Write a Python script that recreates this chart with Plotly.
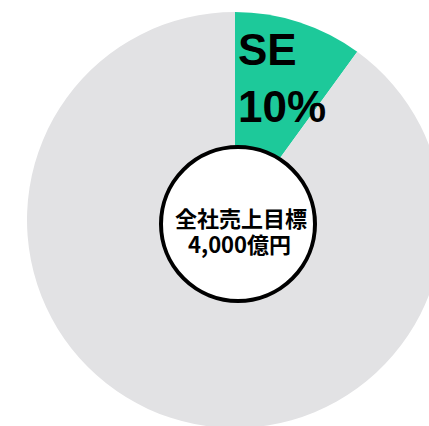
import plotly.graph_objects as go

# share of company sales target
labels = ["SE", "その他"]
values = [10, 90]
colors = ["#1DC99A", "#E2E2E4"]

center_title = "全社売上目標"
center_value = "4,000億円"

W, H = 450, 430

fig = go.Figure()
fig.add_trace(go.Pie(
    labels=labels,
    values=values,
    sort=False,
    direction="clockwise",
    rotation=0,
    marker=dict(colors=colors, line=dict(width=0)),
    textinfo="none",
    hoverinfo="label+percent",
    showlegend=False,
    domain=dict(x=[27 / W, 443 / W], y=[1 - 428 / H, 1 - 12 / H]),
))

# white circle in the middle
cx, cy, r = 238, 224, 77
fig.add_shape(
    type="circle", xref="paper", yref="paper",
    x0=(cx - r) / W, x1=(cx + r) / W,
    y0=1 - (cy + r) / H, y1=1 - (cy - r) / H,
    fillcolor="white", line=dict(color="black", width=4),
)

fig.add_annotation(
    x=236 / W, y=1 - 23 / H, xref="paper", yref="paper",
    xanchor="left", yanchor="top", align="left",
    text=f"<b>{labels[0]}<br>{values[0]}%</b>",
    showarrow=False,
    font=dict(family="Liberation Sans, Arial", size=44, color="black"),
)

fig.add_annotation(
    x=241 / W, y=1 - 217 / H, xref="paper", yref="paper",
    xanchor="center", yanchor="middle",
    text=f"<b>{center_title}</b>",
    showarrow=False,
    font=dict(family="Noto Sans CJK JP", size=22, color="black"),
)
fig.add_annotation(
    x=239 / W, y=1 - 243 / H, xref="paper", yref="paper",
    xanchor="center", yanchor="middle",
    text=f"<b>{center_value}</b>",
    showarrow=False,
    font=dict(family="Noto Sans CJK JP", size=22, color="black"),
)

fig.update_layout(
    width=W, height=H,
    margin=dict(l=0, r=0, t=0, b=0),
    paper_bgcolor="white",
    plot_bgcolor="white",
)

fig.write_html(
    "out.html",
    config={"displayModeBar": False},
    post_script="document.body.style.margin='0';document.body.style.overflow='hidden';",
)
